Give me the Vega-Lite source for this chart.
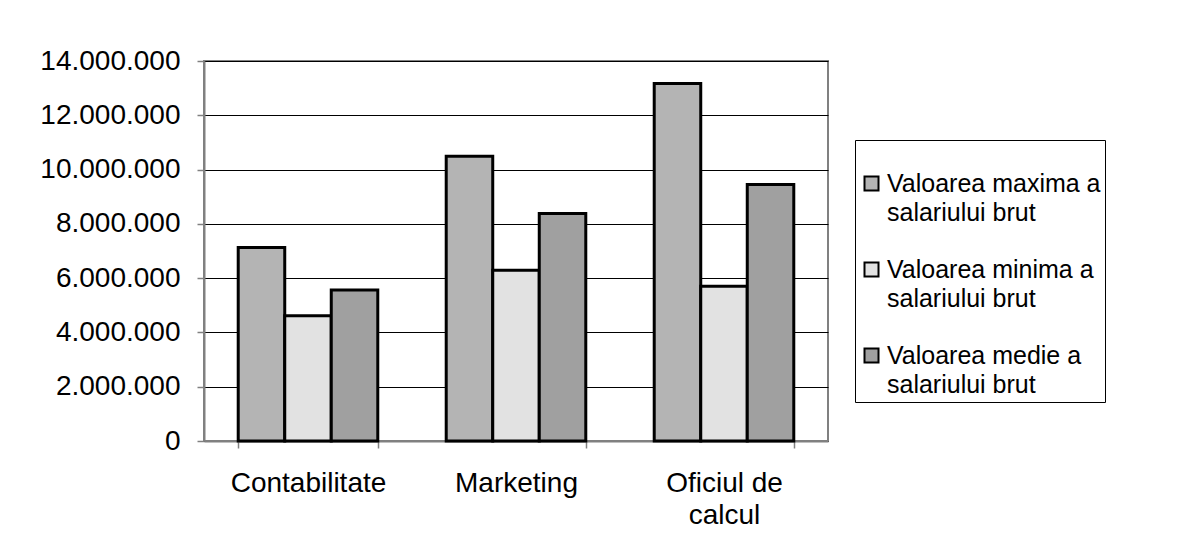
{
  "$schema": "https://vega.github.io/schema/vega-lite/v6.json",
  "autosize": {"type": "none"},
  "width": 624,
  "height": 380,
  "padding": {"left": 204, "top": 61, "right": 354, "bottom": 118},
  "background": "white",
  "data": {
    "values": [
      {"dep": "Contabilitate", "serie": "Valoarea maxima a salariului brut", "valoare": 7130000},
      {"dep": "Contabilitate", "serie": "Valoarea minima a salariului brut", "valoare": 4610000},
      {"dep": "Contabilitate", "serie": "Valoarea medie a salariului brut", "valoare": 5560000},
      {"dep": "Marketing", "serie": "Valoarea maxima a salariului brut", "valoare": 10490000},
      {"dep": "Marketing", "serie": "Valoarea minima a salariului brut", "valoare": 6290000},
      {"dep": "Marketing", "serie": "Valoarea medie a salariului brut", "valoare": 8380000},
      {"dep": "Oficiul de calcul", "serie": "Valoarea maxima a salariului brut", "valoare": 13170000},
      {"dep": "Oficiul de calcul", "serie": "Valoarea minima a salariului brut", "valoare": 5700000},
      {"dep": "Oficiul de calcul", "serie": "Valoarea medie a salariului brut", "valoare": 9450000}
    ]
  },
  "mark": {"type": "bar", "stroke": "black", "strokeWidth": 3},
  "encoding": {
    "x": {
      "field": "dep", "type": "nominal",
      "sort": ["Contabilitate", "Marketing", "Oficiul de calcul"],
      "scale": {"paddingInner": 0.329, "paddingOuter": 0.1645},
      "axis": {
        "title": null,
        "labelAngle": 0,
        "labelFont": "Liberation Sans",
        "labelFontSize": 28,
        "labelColor": "black",
        "labelPadding": 21,
        "labelLineHeight": 32,
        "labelBaseline": "top",
        "labelExpr": "datum.label == 'Oficiul de calcul' ? ['Oficiul de', 'calcul'] : datum.label",
        "tickBand": "extent",
        "tickSize": 7,
        "tickColor": "#808080",
        "tickWidth": 1.5,
        "domainColor": "#808080",
        "domainWidth": 2
      }
    },
    "xOffset": {
      "field": "serie", "type": "nominal",
      "sort": ["Valoarea maxima a salariului brut", "Valoarea minima a salariului brut", "Valoarea medie a salariului brut"],
      "scale": {"paddingInner": 0, "paddingOuter": 0}
    },
    "y": {
      "field": "valoare", "type": "quantitative",
      "scale": {"domain": [0, 14000000], "nice": false},
      "axis": {
        "title": null,
        "values": [0, 2000000, 4000000, 6000000, 8000000, 10000000, 12000000, 14000000],
        "labelExpr": "replace(format(datum.value, ','), regexp(',', 'g'), '.')",
        "labelFont": "Liberation Sans",
        "labelFontSize": 28,
        "labelColor": "black",
        "labelPadding": 17,
        "tickSize": 7,
        "tickColor": "#808080",
        "tickWidth": 1.5,
        "domainColor": "#808080",
        "domainWidth": 2,
        "grid": true,
        "gridColor": "black",
        "gridWidth": 1
      }
    },
    "color": {
      "field": "serie", "type": "nominal",
      "sort": ["Valoarea maxima a salariului brut", "Valoarea minima a salariului brut", "Valoarea medie a salariului brut"],
      "scale": {"range": ["#b4b4b4", "#e2e2e2", "#a0a0a0"]},
      "legend": {
        "title": " ",
        "titleFontSize": 12,
        "titlePadding": 15,
        "orient": "none",
        "legendX": 651,
        "legendY": 79,
        "strokeColor": "black",
        "fillColor": "white",
        "padding": 4,
        "symbolType": "square",
        "symbolSize": 196,
        "symbolStrokeColor": "black",
        "symbolStrokeWidth": 2,
        "symbolOpacity": 1,
        "labelFont": "Liberation Sans",
        "labelFontSize": 25,
        "labelColor": "black",
        "labelOffset": 3,
        "labelLimit": 400,
        "rowPadding": 31,
        "labelExpr": "[replace(datum.label, ' salariului brut', ''), 'salariului brut']"
      }
    }
  },
  "config": {
    "view": {"stroke": "#808080", "strokeWidth": 2},
    "axis": {"gridDash": []},
    "style": {"guide-label": {"lineHeight": 29}}
  }
}
